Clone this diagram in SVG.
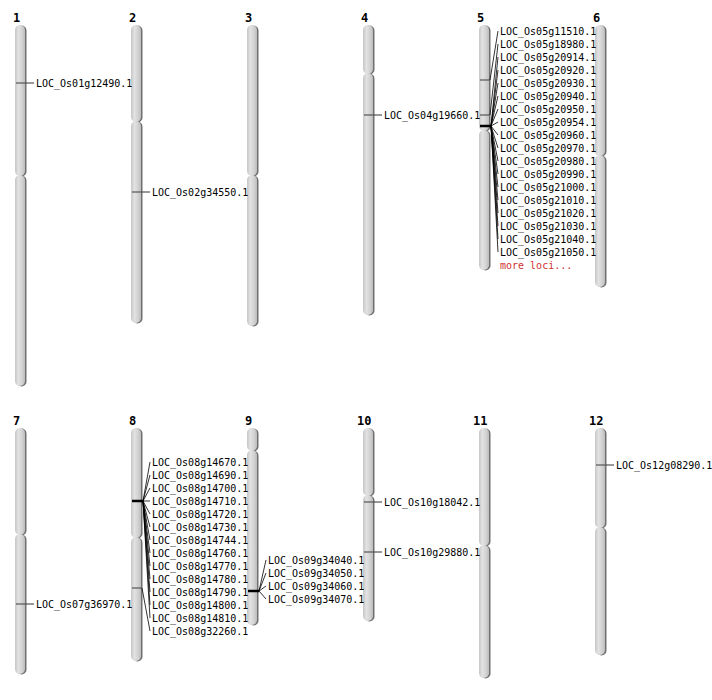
<svg xmlns="http://www.w3.org/2000/svg" width="712" height="700" viewBox="0 0 712 700">
<defs>
<linearGradient id="cg" x1="0" y1="0" x2="1" y2="0">
<stop offset="0" stop-color="#c6c6c6"/>
<stop offset="0.35" stop-color="#e2e2e2"/>
<stop offset="0.7" stop-color="#d2d2d2"/>
<stop offset="1" stop-color="#bdbdbd"/>
</linearGradient>
</defs>
<style>
.arm{fill:url(#cg)}
.sh{fill:#707070}
.num{font-family:"DejaVu Sans Mono","Liberation Mono",monospace;font-size:12px;font-weight:bold;fill:#000}
.lab{font-family:"DejaVu Sans Mono","Liberation Mono",monospace;font-size:10px;fill:#000}
.more{font-family:"DejaVu Sans Mono","Liberation Mono",monospace;font-size:10px;fill:#d03030}
.mk{stroke:#555;stroke-width:1.2}
.mkb{stroke:#000;stroke-width:2.5}
.cn{stroke:#000;stroke-width:0.8;fill:none}
.cs{stroke:#333;stroke-width:1;fill:none}
</style>
<rect width="712" height="700" fill="#fff"/>
<g id="chr1"><text class="num" x="13" y="22">1</text>
<rect class="sh" x="16.5" y="25.5" width="10" height="151" rx="5"/><rect class="arm" x="15" y="25" width="10" height="151" rx="5"/>
<rect class="sh" x="16.5" y="175.5" width="10" height="211" rx="5"/><rect class="arm" x="15" y="175" width="10" height="211" rx="5"/>
<line class="mk" x1="16" y1="83" x2="26" y2="83"/></g>
<g id="chr2"><text class="num" x="129" y="22">2</text>
<rect class="sh" x="132.5" y="25.5" width="10" height="97" rx="5"/><rect class="arm" x="131" y="25" width="10" height="97" rx="5"/>
<rect class="sh" x="132.5" y="121.5" width="10" height="202" rx="5"/><rect class="arm" x="131" y="121" width="10" height="202" rx="5"/>
<line class="mk" x1="132" y1="192" x2="142" y2="192"/></g>
<g id="chr3"><text class="num" x="245" y="22">3</text>
<rect class="sh" x="248.5" y="25.5" width="10" height="151" rx="5"/><rect class="arm" x="247" y="25" width="10" height="151" rx="5"/>
<rect class="sh" x="248.5" y="175.5" width="10" height="151" rx="5"/><rect class="arm" x="247" y="175" width="10" height="151" rx="5"/></g>
<g id="chr4"><text class="num" x="361" y="22">4</text>
<rect class="sh" x="364.5" y="25.5" width="10" height="49" rx="5"/><rect class="arm" x="363" y="25" width="10" height="49" rx="5"/>
<rect class="sh" x="364.5" y="73.5" width="10" height="242" rx="5"/><rect class="arm" x="363" y="73" width="10" height="242" rx="5"/>
<line class="mk" x1="364" y1="115" x2="374" y2="115"/></g>
<g id="chr5"><text class="num" x="477" y="22">5</text>
<rect class="sh" x="480.5" y="25.5" width="10" height="106" rx="5"/><rect class="arm" x="479" y="25" width="10" height="106" rx="5"/>
<rect class="sh" x="480.5" y="130.5" width="10" height="140" rx="5"/><rect class="arm" x="479" y="130" width="10" height="140" rx="5"/>
<line class="mk" x1="480" y1="80" x2="490" y2="80"/>
<line class="mk" x1="480" y1="115" x2="490" y2="115"/>
<line class="mkb" x1="480" y1="126" x2="491" y2="126"/></g>
<g id="chr6"><text class="num" x="593" y="22">6</text>
<rect class="sh" x="596.5" y="25.5" width="10" height="131" rx="5"/><rect class="arm" x="595" y="25" width="10" height="131" rx="5"/>
<rect class="sh" x="596.5" y="155.5" width="10" height="132" rx="5"/><rect class="arm" x="595" y="155" width="10" height="132" rx="5"/></g>
<g id="chr7"><text class="num" x="13" y="425">7</text>
<rect class="sh" x="16.5" y="428.5" width="10" height="107" rx="5"/><rect class="arm" x="15" y="428" width="10" height="107" rx="5"/>
<rect class="sh" x="16.5" y="534.5" width="10" height="140" rx="5"/><rect class="arm" x="15" y="534" width="10" height="140" rx="5"/>
<line class="mk" x1="16" y1="604" x2="26" y2="604"/></g>
<g id="chr8"><text class="num" x="129" y="425">8</text>
<rect class="sh" x="132.5" y="428.5" width="10" height="110" rx="5"/><rect class="arm" x="131" y="428" width="10" height="110" rx="5"/>
<rect class="sh" x="132.5" y="537.5" width="10" height="124" rx="5"/><rect class="arm" x="131" y="537" width="10" height="124" rx="5"/>
<line class="mkb" x1="132" y1="501" x2="143" y2="501"/>
<line class="mk" x1="132" y1="588" x2="142" y2="588"/></g>
<g id="chr9"><text class="num" x="245" y="425">9</text>
<rect class="sh" x="248.5" y="428.5" width="10" height="23" rx="5"/><rect class="arm" x="247" y="428" width="10" height="23" rx="5"/>
<rect class="sh" x="248.5" y="450.5" width="10" height="175" rx="5"/><rect class="arm" x="247" y="450" width="10" height="175" rx="5"/>
<line class="mkb" x1="248" y1="591" x2="259" y2="591"/></g>
<g id="chr10"><text class="num" x="357" y="425">10</text>
<rect class="sh" x="364.5" y="428.5" width="10" height="68" rx="5"/><rect class="arm" x="363" y="428" width="10" height="68" rx="5"/>
<rect class="sh" x="364.5" y="495.5" width="10" height="126" rx="5"/><rect class="arm" x="363" y="495" width="10" height="126" rx="5"/>
<line class="mk" x1="364" y1="502" x2="374" y2="502"/>
<line class="mk" x1="364" y1="552" x2="374" y2="552"/></g>
<g id="chr11"><text class="num" x="473" y="425">11</text>
<rect class="sh" x="480.5" y="428.5" width="10" height="118" rx="5"/><rect class="arm" x="479" y="428" width="10" height="118" rx="5"/>
<rect class="sh" x="480.5" y="545.5" width="10" height="133" rx="5"/><rect class="arm" x="479" y="545" width="10" height="133" rx="5"/></g>
<g id="chr12"><text class="num" x="589" y="425">12</text>
<rect class="sh" x="596.5" y="428.5" width="10" height="100" rx="5"/><rect class="arm" x="595" y="428" width="10" height="100" rx="5"/>
<rect class="sh" x="596.5" y="527.5" width="10" height="128" rx="5"/><rect class="arm" x="595" y="527" width="10" height="128" rx="5"/>
<line class="mk" x1="596" y1="465" x2="606" y2="465"/></g>
<g id="connectors">
<line class="cs" x1="26" y1="83" x2="34" y2="83"/>
<line class="cs" x1="142" y1="192" x2="150" y2="192"/>
<line class="cs" x1="374" y1="115" x2="382" y2="115"/>
<line class="cs" x1="26" y1="604" x2="34" y2="604"/>
<line class="cs" x1="374" y1="502" x2="382" y2="502"/>
<line class="cs" x1="374" y1="552" x2="382" y2="552"/>
<line class="cs" x1="606" y1="465" x2="614" y2="465"/>
<polyline class="cn" points="490,80 498,31"/>
<polyline class="cn" points="490,115 498,44"/>
<polyline class="cn" points="491,126 498,57"/>
<polyline class="cn" points="491,126 498,70"/>
<polyline class="cn" points="491,126 498,83"/>
<polyline class="cn" points="491,126 498,96"/>
<polyline class="cn" points="491,126 498,109"/>
<polyline class="cn" points="491,126 498,122"/>
<polyline class="cn" points="491,126 498,135"/>
<polyline class="cn" points="491,126 498,148"/>
<polyline class="cn" points="491,126 498,161"/>
<polyline class="cn" points="491,126 498,174"/>
<polyline class="cn" points="491,126 498,187"/>
<polyline class="cn" points="491,126 498,200"/>
<polyline class="cn" points="491,126 498,213"/>
<polyline class="cn" points="491,126 498,226"/>
<polyline class="cn" points="491,126 498,239"/>
<polyline class="cn" points="491,126 498,252"/>
<polyline class="cn" points="143,501 150,462"/>
<polyline class="cn" points="143,501 150,475"/>
<polyline class="cn" points="143,501 150,488"/>
<polyline class="cn" points="143,501 150,501"/>
<polyline class="cn" points="143,501 150,514"/>
<polyline class="cn" points="143,501 150,527"/>
<polyline class="cn" points="143,501 150,540"/>
<polyline class="cn" points="143,501 150,553"/>
<polyline class="cn" points="143,501 150,566"/>
<polyline class="cn" points="143,501 150,579"/>
<polyline class="cn" points="143,501 150,592"/>
<polyline class="cn" points="143,501 150,605"/>
<polyline class="cn" points="143,501 150,618"/>
<polyline class="cn" points="142,588 150,631"/>
<polyline class="cn" points="259,591 266,560"/>
<polyline class="cn" points="259,591 266,573"/>
<polyline class="cn" points="259,591 266,586"/>
<polyline class="cn" points="259,591 266,599"/>
</g>
<g id="labels">
<text class="lab" x="36" y="87">LOC_Os01g12490.1</text>
<text class="lab" x="152" y="196">LOC_Os02g34550.1</text>
<text class="lab" x="384" y="119">LOC_Os04g19660.1</text>
<text class="lab" x="36" y="608">LOC_Os07g36970.1</text>
<text class="lab" x="384" y="506">LOC_Os10g18042.1</text>
<text class="lab" x="384" y="556">LOC_Os10g29880.1</text>
<text class="lab" x="616" y="469">LOC_Os12g08290.1</text>
<text class="lab" x="500" y="35">LOC_Os05g11510.1</text>
<text class="lab" x="500" y="48">LOC_Os05g18980.1</text>
<text class="lab" x="500" y="61">LOC_Os05g20914.1</text>
<text class="lab" x="500" y="74">LOC_Os05g20920.1</text>
<text class="lab" x="500" y="87">LOC_Os05g20930.1</text>
<text class="lab" x="500" y="100">LOC_Os05g20940.1</text>
<text class="lab" x="500" y="113">LOC_Os05g20950.1</text>
<text class="lab" x="500" y="126">LOC_Os05g20954.1</text>
<text class="lab" x="500" y="139">LOC_Os05g20960.1</text>
<text class="lab" x="500" y="152">LOC_Os05g20970.1</text>
<text class="lab" x="500" y="165">LOC_Os05g20980.1</text>
<text class="lab" x="500" y="178">LOC_Os05g20990.1</text>
<text class="lab" x="500" y="191">LOC_Os05g21000.1</text>
<text class="lab" x="500" y="204">LOC_Os05g21010.1</text>
<text class="lab" x="500" y="217">LOC_Os05g21020.1</text>
<text class="lab" x="500" y="230">LOC_Os05g21030.1</text>
<text class="lab" x="500" y="243">LOC_Os05g21040.1</text>
<text class="lab" x="500" y="256">LOC_Os05g21050.1</text>
<text class="more" x="500" y="269">more loci...</text>
<text class="lab" x="152" y="466">LOC_Os08g14670.1</text>
<text class="lab" x="152" y="479">LOC_Os08g14690.1</text>
<text class="lab" x="152" y="492">LOC_Os08g14700.1</text>
<text class="lab" x="152" y="505">LOC_Os08g14710.1</text>
<text class="lab" x="152" y="518">LOC_Os08g14720.1</text>
<text class="lab" x="152" y="531">LOC_Os08g14730.1</text>
<text class="lab" x="152" y="544">LOC_Os08g14744.1</text>
<text class="lab" x="152" y="557">LOC_Os08g14760.1</text>
<text class="lab" x="152" y="570">LOC_Os08g14770.1</text>
<text class="lab" x="152" y="583">LOC_Os08g14780.1</text>
<text class="lab" x="152" y="596">LOC_Os08g14790.1</text>
<text class="lab" x="152" y="609">LOC_Os08g14800.1</text>
<text class="lab" x="152" y="622">LOC_Os08g14810.1</text>
<text class="lab" x="152" y="635">LOC_Os08g32260.1</text>
<text class="lab" x="268" y="564">LOC_Os09g34040.1</text>
<text class="lab" x="268" y="577">LOC_Os09g34050.1</text>
<text class="lab" x="268" y="590">LOC_Os09g34060.1</text>
<text class="lab" x="268" y="603">LOC_Os09g34070.1</text>
</g>
</svg>
